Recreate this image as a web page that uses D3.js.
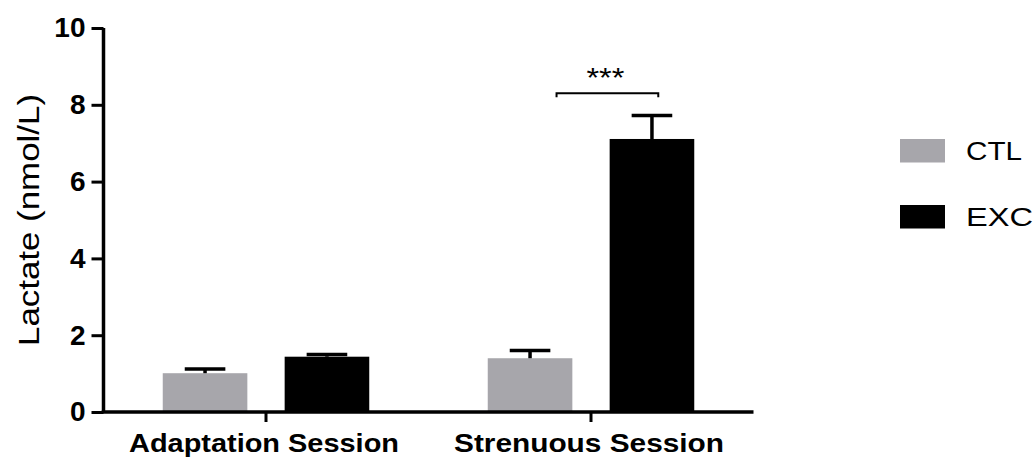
<!DOCTYPE html>
<html>
<head>
<meta charset="utf-8">
<script src="https://cdn.jsdelivr.net/npm/d3@7/dist/d3.min.js"></script>
<style>
  html, body { margin: 0; padding: 0; background: #fff; }
  svg { display: block; font-family: "Liberation Sans", Arial, Helvetica, sans-serif; }
</style>
</head>
<body>
<svg id="chart" width="1035" height="457"></svg>
<script>
// Blood lactate by session and group (mean + SEM)
const categories = ["Adaptation Session", "Strenuous Session"];
const groups = ["CTL", "EXC"];
const ctlMean = [1.01, 1.40];
const ctlSem = [0.11, 0.20];
const excMean = [1.44, 7.11];
const excSem = [0.06, 0.61];
const yTicks = [0, 2, 4, 6, 8, 10];
const yLabel = "Lactate  (nmol/L)";
const significance = "***";

const colors = { CTL: "#a7a6ab", EXC: "#000000" };

const rows = categories.flatMap((c, i) => [
  { category: c, group: "CTL", mean: ctlMean[i], sem: ctlSem[i] },
  { category: c, group: "EXC", mean: excMean[i], sem: excSem[i] }
]);

const svg = d3.select("#chart");
const axisLeft = 103.5, axisRight = 753.5, axisTop = 28, axisBottom = 412;

const y = d3.scaleLinear().domain([0, 10]).range([axisBottom, axisTop]);
const x0 = d3.scaleBand().domain(categories).range([axisLeft, axisRight]).padding(0);
const x1 = d3.scaleBand().domain(groups).range([0, x0.bandwidth()])
  .paddingInner(0.306).paddingOuter(0.486);

// bars
svg.append("g").selectAll("rect").data(rows).join("rect")
  .attr("x", d => x0(d.category) + x1(d.group))
  .attr("width", x1.bandwidth())
  .attr("y", d => y(d.mean))
  .attr("height", d => y(0) - y(d.mean))
  .attr("fill", d => colors[d.group]);

// error bars (upper SEM only)
const capW = x1.bandwidth() * 0.48;
const err = svg.append("g").attr("stroke", "#000").attr("stroke-width", 3.5);
rows.forEach(d => {
  const cx = x0(d.category) + x1(d.group) + x1.bandwidth() / 2;
  err.append("line")
    .attr("x1", cx).attr("x2", cx)
    .attr("y1", y(d.mean)).attr("y2", y(d.mean + d.sem));
  err.append("line")
    .attr("x1", cx - capW / 2).attr("x2", cx + capW / 2)
    .attr("y1", y(d.mean + d.sem)).attr("y2", y(d.mean + d.sem));
});

// y axis
const yAxis = svg.append("g").attr("transform", `translate(${axisLeft},0)`)
  .call(d3.axisLeft(y).tickValues(yTicks).tickSize(12).tickPadding(6).tickFormat(d3.format("d")));
yAxis.select(".domain").attr("stroke", "#000").attr("stroke-width", 3.5)
  .attr("d", `M0,${axisTop}V${axisBottom}`);
yAxis.selectAll(".tick line").attr("stroke", "#000").attr("stroke-width", 3);
yAxis.selectAll(".tick text")
  .attr("font-size", 28).attr("font-weight", "bold").attr("fill", "#000")
  .attr("font-family", "'Liberation Sans', Arial, sans-serif");

// x axis
const xAxis = svg.append("g").attr("transform", `translate(0,${axisBottom})`)
  .call(d3.axisBottom(x0).tickSize(10).tickFormat(""));
xAxis.select(".domain").attr("stroke", "#000").attr("stroke-width", 3.5)
  .attr("d", `M${axisLeft - 1.75},0H${axisRight}`);
xAxis.selectAll(".tick line").attr("stroke", "#000").attr("stroke-width", 3);

svg.append("g").selectAll("text").data(categories).join("text")
  .attr("x", d => x0(d) + x0.bandwidth() / 2 - 2)
  .attr("y", 452)
  .attr("text-anchor", "middle")
  .attr("font-size", 26.5).attr("font-weight", "bold")
  .attr("textLength", 270).attr("lengthAdjust", "spacingAndGlyphs")
  .text(d => d);

// y axis title
svg.append("text")
  .attr("transform", `translate(39,${(axisTop + axisBottom) / 2}) rotate(-90)`)
  .attr("text-anchor", "middle")
  .attr("font-size", 29)
  .attr("textLength", 252).attr("lengthAdjust", "spacingAndGlyphs")
  .text(yLabel);

// significance bracket between groups in the strenuous session
const sCat = categories[1];
const bx1 = x0(sCat) + x0.bandwidth() * 0.394;
const bx2 = x0(sCat) + x0.bandwidth() * 0.707;
const by = y(8.3);
svg.append("path")
  .attr("d", `M${bx1},${by + 4}V${by}H${bx2}V${by + 4}`)
  .attr("fill", "none").attr("stroke", "#000").attr("stroke-width", 2);
svg.append("text")
  .attr("x", (bx1 + bx2) / 2 - 2).attr("y", by - 6)
  .attr("text-anchor", "middle")
  .attr("font-size", 28)
  .attr("textLength", 38).attr("lengthAdjust", "spacingAndGlyphs")
  .text(significance);

// legend
const legend = svg.append("g").selectAll("g").data(groups).join("g")
  .attr("transform", (d, i) => `translate(900,${139 + i * 66})`);
legend.append("rect").attr("width", 45).attr("height", 23.5)
  .attr("fill", d => colors[d]);
legend.append("text")
  .attr("x", 66).attr("y", 21)
  .attr("font-size", 25)
  .attr("textLength", (d, i) => i === 0 ? 56 : 67).attr("lengthAdjust", "spacingAndGlyphs")
  .text(d => d);
</script>
</body>
</html>
